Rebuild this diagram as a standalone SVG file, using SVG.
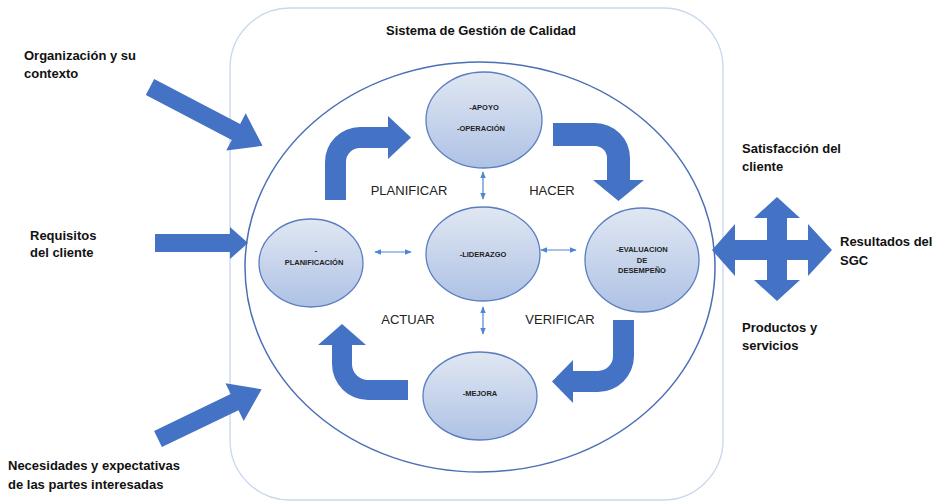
<svg xmlns="http://www.w3.org/2000/svg" width="942" height="504" viewBox="0 0 942 504">
<defs>
<linearGradient id="cg" x1="0" y1="0" x2="0" y2="1">
<stop offset="0" stop-color="#e0e7f2"/>
<stop offset="1" stop-color="#aec2e5"/>
</linearGradient>
<marker id="ah" viewBox="0 0 10 10" refX="9" refY="5" markerWidth="6" markerHeight="6" orient="auto-start-reverse">
<path d="M0,1 L10,5 L0,9 Z" fill="#4f86d4"/>
</marker>
<style>
.lbl{font-family:"Liberation Sans",Arial,sans-serif;font-weight:bold;font-size:13px;fill:#111}
.ctext{font-family:"Liberation Sans",Arial,sans-serif;font-weight:bold;font-size:7.5px;fill:#222;text-anchor:middle}
.phase{font-family:"Liberation Sans",Arial,sans-serif;font-size:13px;fill:#222;text-anchor:middle}
.node{fill:url(#cg);stroke:#5a7ec0;stroke-width:1.3}
.big{fill:#4472c4}
.conn{stroke:#4f86d4;stroke-width:1.2;fill:none;marker-start:url(#ah);marker-end:url(#ah)}
</style>
</defs>
<rect width="942" height="504" fill="#ffffff"/>
<g id="frame">
<rect x="230" y="8" width="493" height="492" rx="60" fill="none" stroke="#c9d7ef" stroke-width="1.3"/>
<text class="lbl" x="481" y="35" text-anchor="middle">Sistema de Gestión de Calidad</text>
<ellipse cx="480" cy="267" rx="235" ry="205" fill="none" stroke="#4a6fb5" stroke-width="1.5"/>
</g>
<g id="connectors">
<line class="conn" x1="483" y1="172" x2="483" y2="199"/>
<line class="conn" x1="483" y1="307" x2="483" y2="334"/>
<line class="conn" x1="375" y1="252" x2="411" y2="252"/>
<line class="conn" x1="541" y1="250" x2="576" y2="250"/>
</g>
<g id="cycle-arrows">
<path class="big" d="M325,200 L325,162 A35,35 0 0 1 360,127 L388,127 L388,116 L411,137.5 L388,159 L388,148 L360,148 A14,14 0 0 0 346,162 L346,200 Z"/>
<path class="big" d="M553,123 L595,123 A35,35 0 0 1 630,158 L630,180 L644,180 L618.5,201 L593,180 L607,180 L607,158 A12,12 0 0 0 595,146 L553,146 Z"/>
<path class="big" d="M613,320 L634,320 L634,356 A36,36 0 0 1 598,392 L573,392 L573,403 L552,381.5 L573,360 L573,371 L598,371 A15,15 0 0 0 613,356 Z"/>
<path class="big" d="M408,380 L408,400 L368,400 A36,36 0 0 1 332,364 L332,345 L318,345 L342,324 L366,345 L352,345 L352,364 A16,16 0 0 0 368,380 Z"/>
</g>
<g id="phases">
<text class="phase" x="409" y="195">PLANIFICAR</text>
<text class="phase" x="552" y="195">HACER</text>
<text class="phase" x="408" y="324">ACTUAR</text>
<text class="phase" x="560" y="324">VERIFICAR</text>
</g>
<g id="apoyo">
<ellipse class="node" cx="484" cy="120" rx="58" ry="48"/>
<text class="ctext" x="484" y="110">-APOYO</text>
<text class="ctext" x="481" y="131">-OPERACIÓN</text>
</g>
<g id="planificacion">
<ellipse class="node" cx="311" cy="263" rx="52" ry="44"/>
<text class="ctext" x="316" y="253">-</text>
<text class="ctext" x="314" y="265">PLANIFICACIÓN</text>
</g>
<g id="liderazgo">
<ellipse class="node" cx="483" cy="254" rx="57" ry="47"/>
<text class="ctext" x="483" y="257">-LIDERAZGO</text>
</g>
<g id="evaluacion">
<ellipse class="node" cx="642" cy="260" rx="57" ry="52"/>
<text class="ctext" x="642" y="252">-EVALUACION</text>
<text class="ctext" x="642" y="263">DE</text>
<text class="ctext" x="642" y="273">DESEMPEÑO</text>
</g>
<g id="mejora">
<ellipse class="node" cx="480" cy="396" rx="57" ry="44"/>
<text class="ctext" x="480" y="396">-MEJORA</text>
</g>
<g id="input-organizacion">
<path class="big" transform="translate(150,87) rotate(27.6)" d="M0,-9 L97,-9 L97,-21 L127,0 L97,21 L97,9 L0,9 Z"/>
<text class="lbl" x="24" y="60">Organización y su</text>
<text class="lbl" x="24" y="78">contexto</text>
</g>
<g id="input-requisitos">
<path class="big" d="M155,234 L230,234 L230,227 L248,243 L230,259 L230,252 L155,252 Z"/>
<text class="lbl" x="30" y="240">Requisitos</text>
<text class="lbl" x="30" y="257">del cliente</text>
</g>
<g id="input-necesidades">
<path class="big" transform="translate(158,439) rotate(-25.7)" d="M0,-9 L85,-9 L85,-21 L115,0 L85,21 L85,9 L0,9 Z"/>
<text class="lbl" x="8" y="470">Necesidades y expectativas</text>
<text class="lbl" x="8" y="489">de las partes interesadas</text>
</g>
<g id="outputs">
<path class="big" d="M777,197 L800,218 L787,218 L787,240 L808,240 L808,224 L832,250 L808,276 L808,260 L787,260 L787,280 L800,280 L777,301 L754,280 L767,280 L767,260 L735,260 L735,276 L712,250 L735,224 L735,240 L767,240 L767,218 L754,218 Z"/>
<text class="lbl" x="742" y="153">Satisfacción del</text>
<text class="lbl" x="742" y="171">cliente</text>
<text class="lbl" x="840" y="246">Resultados del</text>
<text class="lbl" x="840" y="265">SGC</text>
<text class="lbl" x="742" y="332">Productos y</text>
<text class="lbl" x="742" y="350">servicios</text>
</g>
</svg>
